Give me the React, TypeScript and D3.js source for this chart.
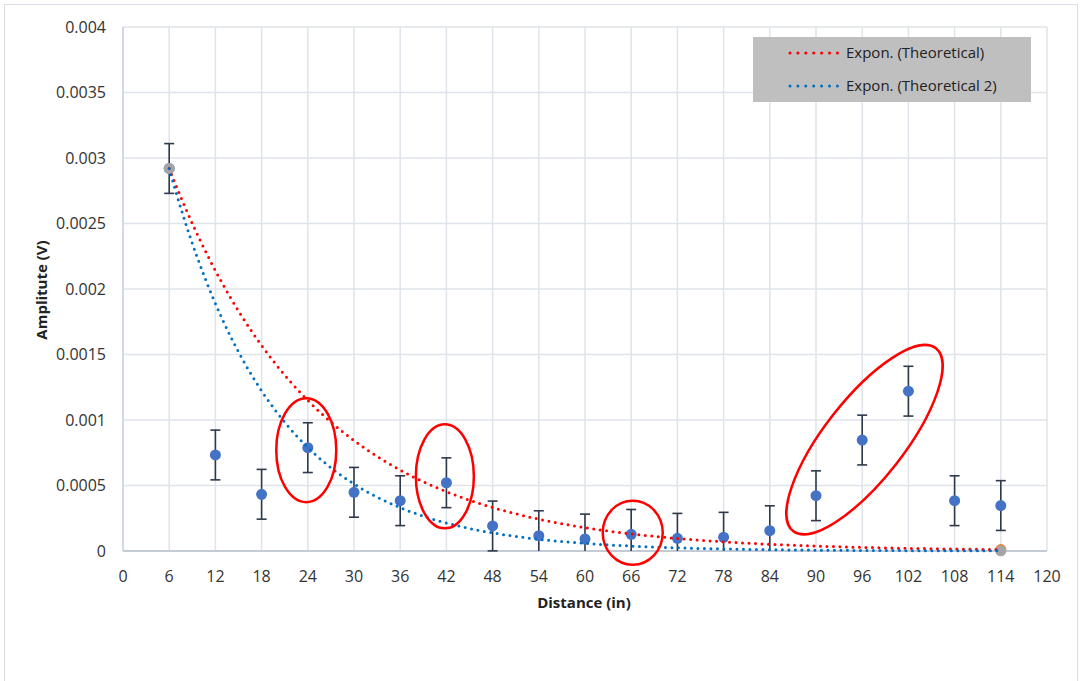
import React from "react";
import * as d3 from "d3";

// Measured amplitude at each distance
const distances = [6, 12, 18, 24, 30, 36, 42, 48, 54, 60, 66, 72, 78, 84, 90, 96, 102, 108, 114];
const amplitudes = [
  0.00292, 0.000733, 0.000433, 0.000789, 0.000448, 0.000384, 0.000521, 0.000191, 0.000117,
  0.0000916, 0.000127, 0.000097, 0.000105, 0.000155, 0.000422, 0.000847, 0.00122, 0.000384,
  0.000347,
];
const errorAmount = 0.00019;

// Theoretical series (endpoints) used for the exponential trendlines
const theoX = [6, 114];
const theoY = [0.00292, 0.0000109];
const theo2X = [6, 114];
const theo2Y = [0.00292, 0.00000115];

const xTicks = d3.range(0, 121, 6);
const yTicks = [0, 0.0005, 0.001, 0.0015, 0.002, 0.0025, 0.003, 0.0035, 0.004];
const yTickLabels = ["0", "0.0005", "0.001", "0.0015", "0.002", "0.0025", "0.003", "0.0035", "0.004"];

const legendItems = [
  { label: "Expon. (Theoretical)", color: "#ff0000" },
  { label: "Expon. (Theoretical 2)", color: "#0070c0" },
];

// Highlight ellipses: center in data units, radii in px, rotation in degrees
const highlights = [
  { cx: 23.8, cy: 0.00077, rx: 30, ry: 52, rot: 0 },
  { cx: 41.8, cy: 0.00057, rx: 29, ry: 52, rot: 0 },
  { cx: 66.2, cy: 0.00014, rx: 30, ry: 32, rot: 0 },
  { cx: 96.3, cy: 0.00085, rx: 116, ry: 40, rot: -52 },
];

// Least-squares exponential fit y = a * exp(b x)
function expFit(xs: number[], ys: number[]) {
  const n = xs.length;
  const ly = ys.map(Math.log);
  const mx = d3.mean(xs)!;
  const my = d3.mean(ly)!;
  let sxy = 0, sxx = 0;
  for (let i = 0; i < n; i++) {
    sxy += (xs[i] - mx) * (ly[i] - my);
    sxx += (xs[i] - mx) * (xs[i] - mx);
  }
  const b = sxy / sxx;
  const a = Math.exp(my - b * mx);
  return (x: number) => a * Math.exp(b * x);
}

const W = 1081;
const H = 681;
const left = 123, right = 1047, top = 27, bottom = 551;
const font = "'Open Sans', 'Noto Sans', sans-serif";

export default function App() {
  const x = d3.scaleLinear().domain([0, 120]).range([left, right]);
  const y = d3.scaleLinear().domain([0, 0.004]).range([bottom, top]);

  const trend1 = expFit(theoX, theoY);
  const trend2 = expFit(theo2X, theo2Y);
  const samples = d3.range(6, 114.001, 0.5);
  const line = (f: (v: number) => number) =>
    d3.line<number>().x((d) => x(d)).y((d) => y(f(d)))(samples) || "";

  const clampY = (v: number) => Math.min(bottom, Math.max(top, y(v)));

  return (
    <div style={{ position: "fixed", left: 0, top: 0 }}>
      <svg width={W} height={H} style={{ display: "block", background: "#fff" }}>
        <rect x={4.5} y={4.5} width={1073} height={700} fill="#fff" stroke="#d9dde6" strokeWidth={1} />

        {/* gridlines */}
        {xTicks.map((t) => (
          <line key={"gx" + t} x1={x(t)} x2={x(t)} y1={top} y2={bottom} stroke="#dfe3ea" strokeWidth={1.5} />
        ))}
        {yTicks.map((t) => (
          <line key={"gy" + t} x1={left} x2={right} y1={y(t)} y2={y(t)} stroke="#dfe3ea" strokeWidth={1.5} />
        ))}
        <line x1={left} x2={left} y1={top} y2={bottom} stroke="#cdd3de" strokeWidth={1.5} />
        <line x1={left} x2={right} y1={bottom} y2={bottom} stroke="#b8c0cf" strokeWidth={1.5} />

        {/* tick labels */}
        {yTicks.map((t, i) => (
          <text key={"ty" + t} x={106} y={y(t)} dy="0.35em" textAnchor="end" fontFamily={font} fontSize={16} fill="#333">
            {yTickLabels[i]}
          </text>
        ))}
        {xTicks.map((t) => (
          <text key={"tx" + t} x={x(t)} y={576} dy="0.35em" textAnchor="middle" fontFamily={font} fontSize={16} fill="#333">
            {t}
          </text>
        ))}

        {/* axis titles */}
        <text x={584} y={603} dy="0.35em" textAnchor="middle" fontFamily={font} fontSize={15} fontWeight="bold" fill="#222">
          Distance (in)
        </text>
        <text
          transform={`translate(42,290) rotate(-90)`}
          dy="0.35em"
          textAnchor="middle"
          fontFamily={font}
          fontSize={15}
          fontWeight="bold"
          fill="#222"
        >
          Amplitute (V)
        </text>

        {/* error bars */}
        {distances.map((d, i) => {
          const v = amplitudes[i];
          const hi = v + errorAmount;
          const lo = v - errorAmount;
          const cx = x(d);
          return (
            <g key={"e" + d} stroke="#2e3a4c" strokeWidth={1.6}>
              <line x1={cx} x2={cx} y1={clampY(hi)} y2={clampY(lo)} />
              {hi <= 0.004 && <line x1={cx - 5} x2={cx + 5} y1={y(hi)} y2={y(hi)} />}
              {lo >= 0 && <line x1={cx - 5} x2={cx + 5} y1={y(lo)} y2={y(lo)} />}
            </g>
          );
        })}

        {/* measured points */}
        {distances.map((d, i) => (
          <circle key={"p" + d} cx={x(d)} cy={y(amplitudes[i])} r={5.5} fill="#4472c4" />
        ))}

        {/* theoretical points */}
        <circle cx={x(theoX[1])} cy={y(theoY[1])} r={5.5} fill="#ed7d31" />
        {theo2X.map((d, i) => (
          <circle key={"t2" + d} cx={x(d)} cy={y(theo2Y[i])} r={5.5} fill="#a5a5a5" />
        ))}

        {/* exponential trendlines */}
        <path d={line(trend1)} fill="none" stroke="#ff0000" strokeWidth={3} strokeLinecap="round" strokeDasharray="0 6.5" />
        <path d={line(trend2)} fill="none" stroke="#0070c0" strokeWidth={3} strokeLinecap="round" strokeDasharray="0 6.5" />

        {/* highlight ellipses */}
        {highlights.map((h, i) => (
          <ellipse
            key={"h" + i}
            cx={0}
            cy={0}
            rx={h.rx}
            ry={h.ry}
            transform={`translate(${x(h.cx)},${y(h.cy)}) rotate(${h.rot})`}
            fill="none"
            stroke="#ff0000"
            strokeWidth={2.5}
          />
        ))}

        {/* legend */}
        <rect x={753} y={37} width={278} height={65} fill="#bfbfbf" />
        {legendItems.map((it, i) => (
          <g key={"l" + i} transform={`translate(0,${53 + i * 33})`}>
            <line x1={790} x2={838} y1={0} y2={0} stroke={it.color} strokeWidth={3} strokeLinecap="round" strokeDasharray="0 7.9" />
            <text x={846} y={0} dy="0.35em" fontFamily={font} fontSize={15} fill="#222">
              {it.label}
            </text>
          </g>
        ))}
      </svg>
    </div>
  );
}
